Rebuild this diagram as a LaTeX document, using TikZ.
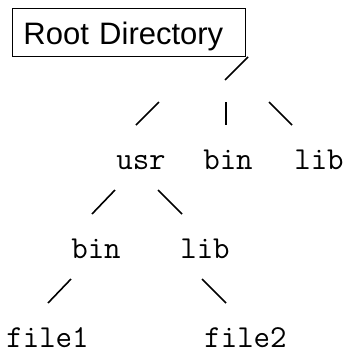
\documentclass[tikz,border=0pt]{standalone}
\usepackage{fontspec}
\setmainfont{Liberation Sans}
\begin{document}
\begin{tikzpicture}[x=1pt,y=-1pt,
  rootbox/.style={draw,line width=0.9pt,anchor=base west,inner xsep=11pt,inner ysep=0pt,
    text width=211pt,align=left,text height=36pt,text depth=12pt,font=\fontsize{31}{36}\selectfont},
  dirname/.style={anchor=base,inner sep=0pt,font=\ttfamily\fontsize{32}{36}\selectfont},
  branch/.style={line width=1.6pt}]
\useasboundingbox (0,0) rectangle (347,351);
\node[rootbox] (root) at (12,44) {Root Directory};
\node[dirname] (usr) at (141,169) {usr};
\node[dirname] (bin) at (228,169) {bin};
\node[dirname] (lib) at (319,169) {lib};
\node[dirname] (ubin) at (96,258) {bin};
\node[dirname] (ulib) at (205,258) {lib};
\node[dirname] (f1) at (47.5,347) {file1};
\node[dirname] (f2) at (245.5,347) {file2};
\coordinate (a1) at (248,57); \coordinate (a2) at (225,80);
\coordinate (b1) at (159,102); \coordinate (b2) at (136,125);
\coordinate (c1) at (226,102); \coordinate (c2) at (226,125);
\coordinate (d1) at (269,102); \coordinate (d2) at (292,125);
\coordinate (e1) at (115,190); \coordinate (e2) at (92,214);
\coordinate (g1) at (158,190); \coordinate (g2) at (182,214);
\coordinate (h1) at (71,279); \coordinate (h2) at (48,303);
\coordinate (k1) at (202,279); \coordinate (k2) at (226,303);
\draw[branch] (a1) -- (a2);
\draw[branch] (b1) -- (b2);
\draw[branch] (c1) -- (c2);
\draw[branch] (d1) -- (d2);
\draw[branch] (e1) -- (e2);
\draw[branch] (g1) -- (g2);
\draw[branch] (h1) -- (h2);
\draw[branch] (k1) -- (k2);
\end{tikzpicture}
\end{document}
